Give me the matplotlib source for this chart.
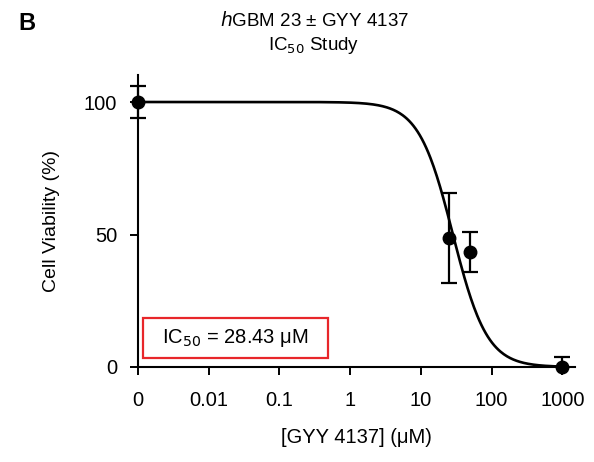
import numpy as np
import matplotlib
matplotlib.use("Agg")
import matplotlib.pyplot as plt
from matplotlib.patches import Rectangle

plt.rcParams['font.family'] = ['Liberation Sans', 'DejaVu Sans']

# measured points (0 uM is drawn at the "0" position = 0.001 on the log axis)
conc = [0, 25, 50, 1000]
viability = [100, 48.7, 43.5, 0]
sem = [6.1, 16.9, 7.5, 3.9]

# fitted dose-response curve
ic50 = 28.43
hill = 1.8
top, bottom = 100, 0

xticks = [0.001, 0.01, 0.1, 1, 10, 100, 1000]
xticklabels = ["0", "0.01", "0.1", "1", "10", "100", "1000"]
yticks = [0, 50, 100]

zero_pos = 0.001
xpos = [c if c > 0 else zero_pos for c in conc]

fig = plt.figure(figsize=(5.94, 4.62), dpi=100)
ax = fig.add_axes([138 / 594, 1 - 367 / 462, 437 / 594, (367 - 75) / 462])

xc = np.logspace(-3, 3, 400)
yc = bottom + (top - bottom) / (1 + (xc / ic50) ** hill)
ax.plot(xc, yc, color='black', lw=1.9, clip_on=False, zorder=2)

eb = ax.errorbar(xpos, viability, yerr=sem, fmt='none', ecolor='black',
                 elinewidth=1.6, capsize=5.5, capthick=1.6, zorder=3)
# clip error bars only below the x axis (like the original), not at the left spine
clip = Rectangle((1e-5, 0), 1e6, 1000, transform=ax.transData)
for art in eb.lines[1] + eb.lines[2]:
    art.set_clip_path(clip)
ax.plot(xpos, viability, 'o', color='black', ms=9, clip_on=False, zorder=4)

ax.set_xscale('log')
ax.set_xlim(0.001, 10 ** 3.18)
ax.set_ylim(0, (367 - 75) / 2.65)
ax.set_xticks(xticks)
ax.set_xticklabels(xticklabels)
ax.minorticks_off()
ax.set_yticks(yticks)

for s in ['top', 'right']:
    ax.spines[s].set_visible(False)
for s in ['left', 'bottom']:
    ax.spines[s].set_linewidth(1.5)
ax.tick_params(axis='both', direction='out', length=6, width=1.4,
               labelsize=14.5)
ax.tick_params(axis='y', pad=9)
ax.tick_params(axis='x', pad=11)

ax.set_xlabel('[GYY 4137] (μM)', fontsize=14.5, labelpad=13)
ax.set_ylabel('Cell Viability (%)', fontsize=14, labelpad=17)

fig.text(314 / 594, 1 - 20 / 462, r'$\it{h}$GBM 23 ± GYY 4137', ha='center',
         va='center', fontsize=13.5)
fig.text(314 / 594, 1 - 45 / 462, r'IC$_{50}$ Study', ha='center',
         va='center', fontsize=13.5)
fig.text(18 / 594, 1 - 24 / 462, 'B', ha='left', va='center', fontsize=17,
         fontweight='bold')

box = Rectangle((143 / 594, 1 - 358 / 462), (328 - 143) / 594, 40 / 462,
                transform=fig.transFigure, fill=False, edgecolor='#e8262a',
                lw=1.6)
fig.patches.append(box)
fig.text(235 / 594, 1 - 338 / 462, r'IC$_{50}$ = 28.43 μM', ha='center',
         va='center', fontsize=14.5)

fig.savefig('out.png', dpi=100)
